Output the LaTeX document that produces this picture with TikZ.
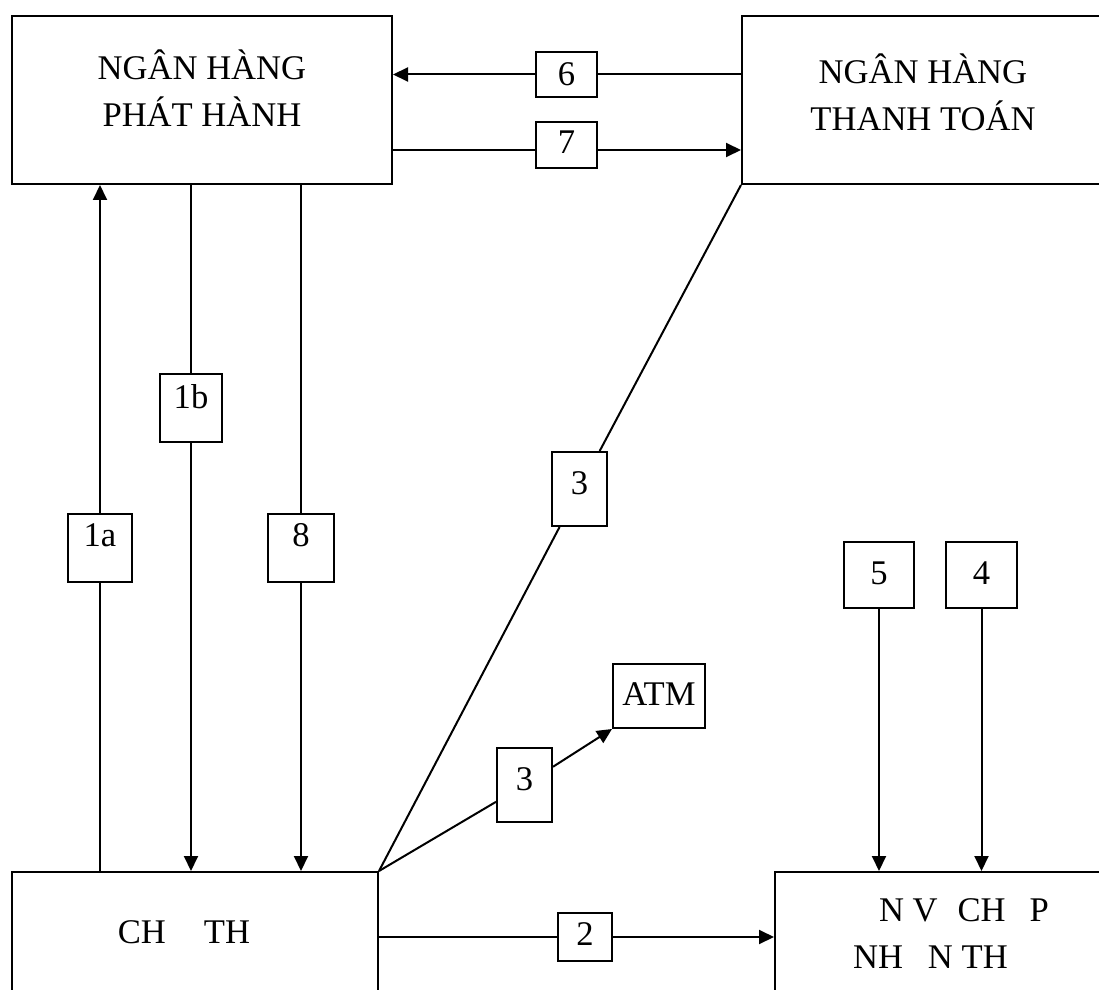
\documentclass[tikz,border=0pt]{standalone}
\usepackage{fontspec}
\setmainfont{Liberation Serif}
\usepackage{tikz}
\usetikzlibrary{arrows.meta,positioning}

\begin{document}
\begin{tikzpicture}[
    x=0.5pt, y=-0.5pt,
    bank/.style={draw, line width=1pt, inner sep=0pt, anchor=north west, font=\fontsize{17.3}{23.5}\selectfont},
    num/.style={draw, line width=1pt, inner sep=0pt, anchor=north west, font=\fontsize{17.3}{23.5}\selectfont},
    arr/.style={-{Triangle[length=7.5pt,width=7pt]}, line width=1pt},
    conn/.style={line width=1pt}
]
\useasboundingbox (0,0) rectangle (1099,990);
\clip (0,0) rectangle (1099,990);

% the four parties
\node[bank, minimum width=190pt, text height=32pt, text depth=52pt] (ph) at (11,15)
    {\begin{tabular}[t]{c}NGÂN HÀNG\\PHÁT HÀNH\end{tabular}};
\node[bank, minimum width=181pt, text height=34pt, text depth=50pt] (pt) at (741,15)
    {\begin{tabular}[t]{c}NGÂN HÀNG\\THANH TOÁN\end{tabular}};
\node[bank, minimum width=183pt, text height=35.5pt, text depth=70pt] (ct) at (11,871)
    {CH\hspace{19pt}TH\kern11pt};
\node[bank, minimum width=176pt, text height=24.5pt, text depth=70pt] (nv) at (774,871)
    {\begin{tabular}[t]{@{}l@{}}\hspace{13pt}N V\hspace{10pt}CH\hspace{12pt}P\\NH\hspace{12.5pt}N TH\end{tabular}};

% step numbers
\node[num, minimum width=30.5pt, text height=17pt, text depth=5.5pt] (n6) at (535,51) {6};
\node[num, minimum width=30.5pt, text height=16pt, text depth=7pt] (n7) at (535,121) {7};
\node[num, minimum width=31pt, text height=17pt, text depth=17pt] (n1b) at (159,373) {1b};
\node[num, minimum width=32pt, text height=16pt, text depth=18pt] (n1a) at (67,513) {1a};
\node[num, minimum width=33pt, text height=16pt, text depth=18pt] (n8) at (267,513) {8};
\node[num, minimum width=27.5pt, text height=21pt, text depth=16pt] (n3a) at (551,451) {3};
\node[num, minimum width=27.5pt, text height=21pt, text depth=16pt] (n3b) at (496,747) {3};
\node[num, minimum width=46pt, text height=20.5pt, text depth=11.5pt] (atm) at (612,663) {ATM};
\node[num, minimum width=35pt, text height=21pt, text depth=12pt] (n5) at (843,541) {5};
\node[num, minimum width=35.5pt, text height=21pt, text depth=12pt] (n4) at (945,541) {4};
\node[num, minimum width=27pt, text height=16pt, text depth=8pt] (n2) at (557,912) {2};

% flows between the banks
\draw[conn] (pt.west |- n6) -- (n6.east);
\draw[arr] (n6.west) -- (ph.east |- n6);
\draw[conn] ([yshift=-2.5pt]ph.east |- n7) -- ([yshift=-2.5pt]n7.west);
\draw[arr] ([yshift=-2.5pt]n7.east) -- ([yshift=-2.5pt]pt.west |- n7);

% flows between card holder and issuer
\draw[conn] (ct.north -| n1a) -- (n1a.south);
\draw[arr] (n1a.north) -- (ph.south -| n1a);
\draw[conn] (ph.south -| n1b) -- (n1b.north);
\draw[arr] (n1b.south) -- (ct.north -| n1b);
\draw[conn] (ph.south -| n8) -- (n8.north);
\draw[arr] (n8.south) -- (ct.north -| n8);

% card use
\draw[conn] (ct.north east) -- (n3a);
\draw[conn] (n3a) -- (pt.south west);
\draw[conn] (ct.north east) -- (n3b);
\draw[arr] (n3b) -- (atm.south west);
\draw[conn] (ct.east |- n2) -- (n2.west);
\draw[arr] (n2.east) -- (nv.west |- n2);
\draw[arr] (n5.south) -- (n5.south |- nv.north);
\draw[arr] (n4.south) -- (n4.south |- nv.north);
\end{tikzpicture}
\end{document}
